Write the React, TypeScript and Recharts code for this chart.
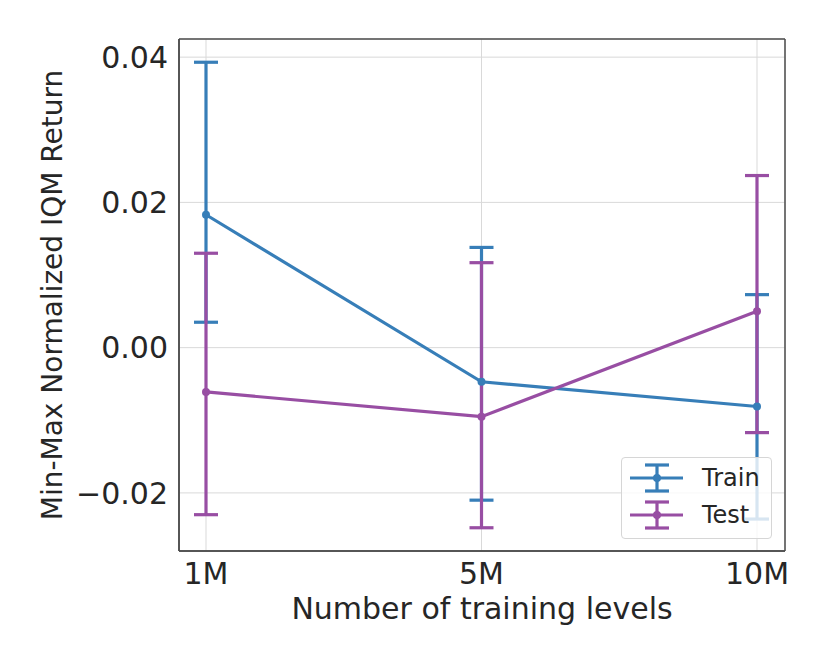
import { LineChart, Line, XAxis, YAxis, CartesianGrid, Legend, ErrorBar, Label } from 'recharts'

const levels = ['1M', '5M', '10M']
const seriesNames = ['Train', 'Test']

// IQM means and 95% CI bounds
const trainMean = [0.0183, -0.0047, -0.0081]
const trainLow = [0.0035, -0.021, -0.0236]
const trainHigh = [0.0393, 0.0138, 0.0073]

const testMean = [-0.0061, -0.0095, 0.005]
const testLow = [-0.023, -0.0248, -0.0117]
const testHigh = [0.013, 0.0117, 0.0237]

const yTicks = [-0.02, 0, 0.02, 0.04]

const TRAIN = '#377eb8'
const TEST = '#984ea3'
const TEXT = '#262626'
const SPINE = '#4d4d4d'
const FONT = '"DejaVu Sans", sans-serif'

const data = levels.map((level, i) => ({
  level,
  train: trainMean[i],
  trainErr: [trainMean[i] - trainLow[i], trainHigh[i] - trainMean[i]],
  test: testMean[i],
  testErr: [testMean[i] - testLow[i], testHigh[i] - testMean[i]],
}))

const fmt = (v: number) => (v < 0 ? '\u2212' : '') + Math.abs(v).toFixed(2)

function LegendBox({ payload }: any) {
  const items = [...(payload || [])].sort(
    (a: any, b: any) => seriesNames.indexOf(a.value) - seriesNames.indexOf(b.value)
  )
  return (
    <div
      style={{
        width: 151,
        height: 82,
        boxSizing: 'border-box',
        background: 'rgba(255,255,255,0.8)',
        border: '1px solid #d6d6d6',
        borderRadius: 4,
        padding: '1px 0 0 8px',
        fontFamily: FONT,
      }}
    >
      {items.map((entry: any) => (
        <div key={entry.value} style={{ display: 'flex', alignItems: 'center', height: 37 }}>
          <svg width={56} height={32}>
            <line x1={0} y1={16} x2={53} y2={16} stroke={entry.color} strokeWidth={3.2} />
            <line x1={27} y1={3} x2={27} y2={29} stroke={entry.color} strokeWidth={3.2} />
            <line x1={15} y1={3} x2={39} y2={3} stroke={entry.color} strokeWidth={3.2} />
            <line x1={15} y1={29} x2={39} y2={29} stroke={entry.color} strokeWidth={3.2} />
            <circle cx={27} cy={16} r={4} fill={entry.color} />
          </svg>
          <span style={{ marginLeft: 16, fontSize: 24, color: TEXT }}>{entry.value}</span>
        </div>
      ))}
    </div>
  )
}

export default function App() {
  return (
    <div style={{ position: 'absolute', left: 0, top: 0, width: 830, height: 664, background: '#fff' }}>
      <LineChart width={830} height={664} data={data} margin={{ top: 39, right: 45, left: 0, bottom: 0 }}>
        <CartesianGrid stroke="#d9d9d9" strokeWidth={1} />
        {/* frame: lines along the plot area's edges */}
        <CartesianGrid
          stroke={SPINE}
          strokeWidth={1.5}
          horizontalCoordinatesGenerator={({ offset }: any) => [offset.top, offset.top + offset.height]}
          verticalCoordinatesGenerator={({ offset }: any) => [offset.left, offset.left + offset.width]}
        />
        <XAxis
          dataKey="level"
          padding={{ left: 27, right: 28 }}
          height={113}
          tickSize={0}
          tickMargin={12}
          axisLine={{ stroke: SPINE, strokeWidth: 1.5 }}
          tick={{ fill: TEXT, fontSize: 30, fontFamily: FONT }}
        >
          <Label
            value="Number of training levels"
            position="insideBottom"
            offset={45}
            fill={TEXT}
            fontSize={30}
            fontFamily={FONT}
          />
        </XAxis>
        <YAxis
          width={179}
          domain={[-0.028, 0.0425]}
          ticks={yTicks}
          allowDataOverflow
          tickFormatter={fmt}
          tickSize={0}
          tickMargin={11}
          axisLine={{ stroke: SPINE, strokeWidth: 1.5 }}
          tick={{ fill: TEXT, fontSize: 30, fontFamily: FONT }}
        >
          <Label
            value="Min-Max Normalized IQM Return"
            angle={-90}
            position="insideLeft"
            offset={52}
            textAnchor="middle"
            fill={TEXT}
            fontSize={28}
            fontFamily={FONT}
          />
        </YAxis>
        <Line
          name="Train"
          dataKey="train"
          stroke={TRAIN}
          strokeWidth={3.2}
          dot={{ r: 4, fill: TRAIN, stroke: TRAIN, strokeWidth: 0 }}
          isAnimationActive={false}
        >
          <ErrorBar dataKey="trainErr" width={12} stroke={TRAIN} strokeWidth={3.2} direction="y" isAnimationActive={false} />
        </Line>
        <Line
          name="Test"
          dataKey="test"
          stroke={TEST}
          strokeWidth={3.2}
          dot={{ r: 4, fill: TEST, stroke: TEST, strokeWidth: 0 }}
          isAnimationActive={false}
        >
          <ErrorBar dataKey="testErr" width={12} stroke={TEST} strokeWidth={3.2} direction="y" isAnimationActive={false} />
        </Line>
        <Legend
          layout="vertical"
          align="center"
          verticalAlign="middle"
          content={<LegendBox />}
          wrapperStyle={{ left: 621, top: 457, width: 151, height: 82 }}
        />
      </LineChart>
    </div>
  )
}
